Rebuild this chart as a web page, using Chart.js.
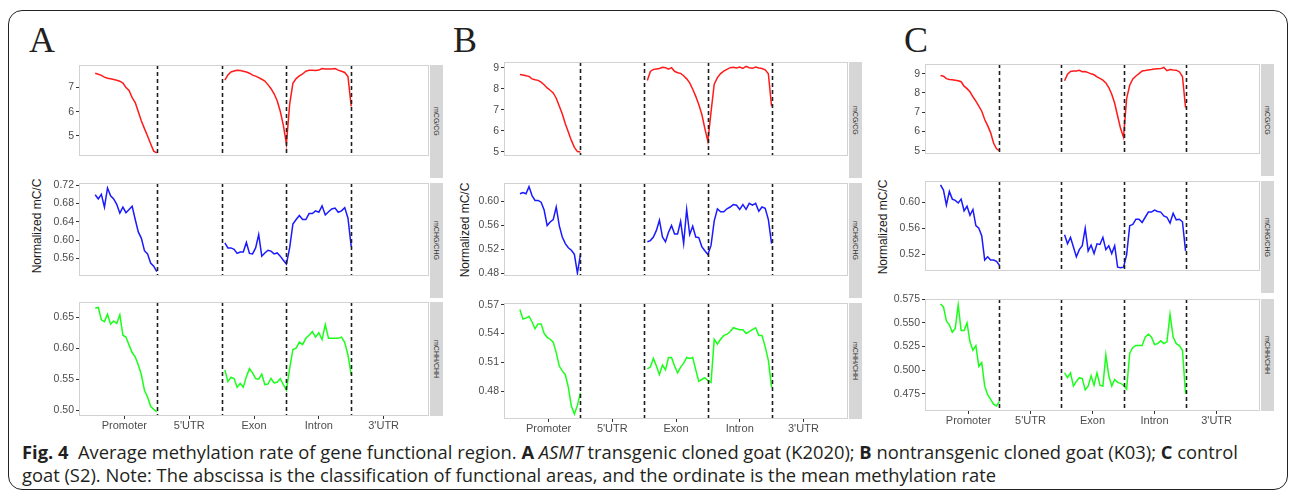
<!doctype html>
<html lang="en">
<head>
<meta charset="utf-8">
<title>Average methylation rate of gene functional region</title>
<style>
  * { margin: 0; padding: 0; }
  body {
    width: 1290px; height: 496px; background: #fff;
    position: relative; overflow: hidden;
    font-family: 'Liberation Sans', Arial, sans-serif;
  }
  .frame {
    position: absolute; left: 8px; top: 10px; width: 1280px; height: 480px;
    border: 1.5px solid #222; border-radius: 14px; box-sizing: border-box;
  }
  .letter {
    position: absolute; top: 22px; line-height: 1;
    font-family: 'Liberation Serif', 'DejaVu Serif', serif;
    font-size: 36px; color: #231f20;
  }
  .facet { position: absolute; }
  .strip {
    position: absolute; background: #d6d6d6;
    display: flex; align-items: center; justify-content: center;
  }
  .strip span {
    writing-mode: vertical-rl; font-size: 7px; color: #333; white-space: nowrap;
  }
  .ytitle {
    position: absolute; white-space: nowrap; font-size: 12px; color: #1a1a1a;
    transform: translate(-50%, -50%) rotate(-90deg);
  }
  .caption {
    position: absolute; left: 22px; top: 440px; color: #231f20;
    font-family: 'Open Sans', 'Noto Sans', sans-serif;
    font-size: 18.5px; line-height: 23px; white-space: nowrap; transform-origin: left top;
  }
  .caption b { font-weight: bold; }
</style>
</head>
<body>
<div class="frame"></div>
<div class="caption" id="caption">
  <div><span id="capLine"><b>Fig. 4</b>&nbsp; Average methylation rate of gene functional region. <b>A</b> <i>ASMT</i> transgenic cloned goat (K2020); <b>B</b> nontransgenic cloned goat (K03); <b>C</b> control</span></div>
  <div>goat (S2). Note: The abscissa is the classification of functional areas, and the ordinate is the mean methylation rate</div>
</div>

<script src="https://cdn.jsdelivr.net/npm/chart.js/dist/chart.umd.min.js"></script>
<script>
// regions along the gene body and methylation contexts
const regions = ['Promoter', "5'UTR", 'Exon', 'Intron', "3'UTR"];
const boundaries = [1, 2, 3, 4];
const contexts = ['mCG/CG', 'mCHG/CHG', 'mCHH/CHH'];
const lineColors = ['#ff1a1a', '#1a1aff', '#1aff1a'];

// A: ASMT transgenic cloned goat (K2020)
const aCgPromoter = [7.59,7.55,7.50,7.43,7.38,7.36,7.33,7.30,7.26,7.18,7.00,6.88,6.58,6.38,6.00,5.62,5.30,5.00,4.68,4.37,4.30];
const aCgExon     = [7.30,7.52,7.64,7.68,7.71,7.70,7.67,7.64,7.59,7.51,7.47,7.41,7.34,7.27,7.12,6.95,6.74,6.45,6.02,5.45,4.67];
const aCgIntron   = [6.30,7.17,7.37,7.48,7.56,7.67,7.71,7.71,7.70,7.72,7.78,7.76,7.76,7.76,7.78,7.72,7.67,7.62,7.45,6.22];
const aChgPromoter = [0.699,0.690,0.700,0.672,0.714,0.697,0.690,0.678,0.659,0.672,0.660,0.667,0.674,0.645,0.618,0.604,0.577,0.570,0.550,0.543,0.531];
const aChgExon     = [0.594,0.583,0.583,0.580,0.571,0.574,0.574,0.595,0.571,0.570,0.583,0.612,0.565,0.572,0.578,0.576,0.570,0.572,0.565,0.556,0.548];
const aChgIntron   = [0.583,0.635,0.645,0.654,0.645,0.645,0.658,0.658,0.664,0.661,0.675,0.655,0.662,0.668,0.670,0.661,0.664,0.671,0.648,0.586];
const aChhPromoter = [0.665,0.666,0.646,0.643,0.655,0.639,0.644,0.640,0.654,0.621,0.618,0.605,0.593,0.586,0.573,0.557,0.532,0.521,0.506,0.501,0.497];
const aChhExon     = [0.565,0.546,0.553,0.551,0.537,0.543,0.537,0.554,0.567,0.560,0.551,0.550,0.558,0.541,0.542,0.551,0.544,0.545,0.551,0.541,0.532];
const aChhIntron   = [0.567,0.598,0.600,0.610,0.606,0.616,0.621,0.627,0.618,0.625,0.614,0.638,0.616,0.616,0.616,0.616,0.618,0.609,0.589,0.557];

// B: nontransgenic cloned goat (K03)
const bCgPromoter = [8.68,8.65,8.62,8.59,8.47,8.43,8.40,8.31,8.19,8.04,7.93,7.80,7.55,7.18,6.80,6.34,5.95,5.55,5.22,5.02,5.00];
const bCgExon     = [8.39,8.82,8.92,8.94,8.96,9.02,9.00,8.93,9.00,8.83,8.76,8.73,8.62,8.47,8.28,7.98,7.64,7.25,6.79,6.12,5.51];
const bCgIntron   = [6.90,8.22,8.53,8.72,8.84,8.92,9.00,9.02,8.99,9.03,8.97,9.06,9.00,8.97,9.03,8.99,8.96,8.90,8.71,7.17];
const bChgPromoter = [0.613,0.615,0.613,0.625,0.610,0.602,0.602,0.599,0.586,0.560,0.566,0.570,0.591,0.560,0.541,0.530,0.523,0.519,0.512,0.481,0.512];
const bChgExon     = [0.533,0.535,0.541,0.552,0.569,0.541,0.533,0.549,0.560,0.546,0.546,0.567,0.530,0.587,0.545,0.559,0.541,0.540,0.525,0.518,0.512];
const bChgIntron   = [0.527,0.568,0.588,0.583,0.583,0.588,0.591,0.595,0.594,0.587,0.595,0.587,0.597,0.594,0.597,0.584,0.591,0.589,0.570,0.530];
const bChhPromoter = [0.565,0.555,0.556,0.558,0.552,0.545,0.550,0.550,0.540,0.536,0.534,0.531,0.520,0.506,0.501,0.497,0.484,0.464,0.456,0.465,0.478];
const bChhExon     = [0.503,0.505,0.514,0.506,0.497,0.507,0.502,0.515,0.515,0.506,0.499,0.505,0.509,0.515,0.514,0.515,0.502,0.490,0.492,0.494,0.491];
const bChhIntron   = [0.489,0.534,0.529,0.534,0.538,0.539,0.542,0.546,0.545,0.544,0.544,0.540,0.542,0.544,0.546,0.538,0.538,0.526,0.512,0.484];

// C: control goat (S2)
const cCgPromoter = [8.90,8.87,8.74,8.70,8.68,8.66,8.63,8.58,8.35,8.22,8.06,7.80,7.57,7.32,7.05,6.62,6.30,5.94,5.40,5.10,5.01];
const cCgExon     = [8.63,8.97,9.11,9.14,9.14,9.17,9.10,9.11,9.05,8.99,8.94,8.83,8.75,8.66,8.52,8.28,7.93,7.46,6.80,6.15,5.71];
const cCgIntron   = [7.70,8.40,8.72,8.88,9.00,9.14,9.16,9.19,9.21,9.24,9.25,9.26,9.32,9.15,9.21,9.19,9.18,9.10,8.85,7.24];
const cChgPromoter = [0.627,0.619,0.596,0.617,0.605,0.603,0.599,0.605,0.587,0.594,0.580,0.589,0.564,0.560,0.548,0.511,0.516,0.511,0.511,0.509,0.503];
const cChgExon     = [0.550,0.536,0.546,0.531,0.516,0.527,0.533,0.560,0.525,0.534,0.521,0.536,0.535,0.546,0.527,0.533,0.521,0.533,0.500,0.499,0.500];
const cChgIntron   = [0.519,0.564,0.566,0.574,0.574,0.569,0.577,0.585,0.585,0.588,0.586,0.585,0.579,0.577,0.568,0.583,0.573,0.574,0.570,0.525];
const cChhPromoter = [0.570,0.567,0.552,0.548,0.540,0.544,0.569,0.542,0.542,0.550,0.530,0.521,0.526,0.504,0.508,0.483,0.474,0.469,0.464,0.462,0.467];
const cChhExon     = [0.497,0.492,0.497,0.483,0.488,0.492,0.491,0.479,0.483,0.494,0.484,0.497,0.484,0.483,0.516,0.494,0.483,0.490,0.487,0.486,0.484];
const cChhIntron   = [0.480,0.518,0.524,0.526,0.526,0.526,0.535,0.538,0.535,0.527,0.528,0.531,0.528,0.530,0.559,0.535,0.528,0.526,0.521,0.475];

// y tick labels per facet
const cgTicksA = [5, 6, 7];
const chgTicksA = [0.56, 0.60, 0.64, 0.68, 0.72];
const chhTicksA = [0.50, 0.55, 0.60, 0.65];
const cgTicksB = [5, 6, 7, 8, 9];
const chgTicksB = [0.48, 0.52, 0.56, 0.60];
const chhTicksB = [0.48, 0.51, 0.54, 0.57];
const cgTicksC = [5, 6, 7, 8, 9];
const chgTicksC = [0.52, 0.56, 0.60];
const chhTicksC = [0.475, 0.500, 0.525, 0.550, 0.575];

// layout of the three panels (pixels) and axis ranges
const panels = [
  { letter: 'A', letterX: 29, titleX: 37, titleY: 226, left: 79, right: 429,
    tops: [65, 183, 302], bottoms: [178, 298, 416],
    series: [[aCgPromoter, aCgExon, aCgIntron], [aChgPromoter, aChgExon, aChgIntron], [aChhPromoter, aChhExon, aChhIntron]],
    ticks: [cgTicksA, chgTicksA, chhTicksA], dec: [0, 2, 2],
    ranges: [[4.17, 7.93], [0.5217, 0.7248], [0.4903, 0.6748]] },
  { letter: 'B', letterX: 453, titleX: 465, titleY: 230, left: 504, right: 848,
    tops: [62, 183, 303], bottoms: [178, 298, 419],
    series: [[bCgPromoter, bCgExon, bCgIntron], [bChgPromoter, bChgExon, bChgIntron], [bChhPromoter, bChhExon, bChhIntron]],
    ticks: [cgTicksB, chgTicksB, chhTicksB], dec: [0, 2, 2],
    ranges: [[4.81, 9.27], [0.476, 0.631], [0.4508, 0.5718]] },
  { letter: 'C', letterX: 904, titleX: 883, titleY: 227, left: 925, right: 1260,
    tops: [64, 181, 299], bottoms: [176, 293, 411],
    series: [[cCgPromoter, cCgExon, cCgIntron], [cChgPromoter, cChgExon, cChgIntron], [cChhPromoter, cChhExon, cChhIntron]],
    ticks: [cgTicksC, chgTicksC, chhTicksC], dec: [0, 2, 3],
    ranges: [[4.83, 9.5], [0.494, 0.633], [0.4567, 0.5753]] }
];

const AXIS_W = 45, PAD = 10, XAXIS_H = 22, STRIP_W = 14;

// promoter bins run up to the TSS boundary, exon/intron bins are contiguous
function toPoints(promoter, exon, intron) {
  const pts = promoter.map((v, i) => ({ x: 0.05 + i * 0.0475, y: v }));
  pts.push({ x: 1.5, y: null });
  exon.forEach((v, i) => pts.push({ x: 2.05 + i * 0.0475, y: v }));
  intron.forEach((v, j) => pts.push({ x: 3.05 + j * 0.05, y: v }));
  return pts;
}

// panel border + dashed region boundaries
const facetDecor = {
  id: 'facetDecor',
  afterDatasetsDraw(chart) {
    const { ctx, chartArea: a, scales: { x } } = chart;
    ctx.save();
    ctx.strokeStyle = '#1e1e1e';
    ctx.lineWidth = 1.6;
    ctx.setLineDash([4, 3]);
    boundaries.forEach(b => {
      const px = Math.round(x.getPixelForValue(b)) + 0.5;
      ctx.beginPath();
      ctx.moveTo(px, a.top);
      ctx.lineTo(px, a.bottom);
      ctx.stroke();
    });
    ctx.restore();
  },
  afterDraw(chart) {
    const { ctx, chartArea: a } = chart;
    ctx.save();
    ctx.strokeStyle = '#d2d2d2';
    ctx.lineWidth = 1;
    ctx.strokeRect(a.left + 0.5, a.top + 0.5, a.right - a.left - 1, a.bottom - a.top - 1);
    ctx.restore();
  }
};

Chart.defaults.font.family = "'Liberation Sans', Arial, sans-serif";

function addDiv(cls, style, html) {
  const d = document.createElement('div');
  d.className = cls;
  Object.assign(d.style, style);
  if (html) d.innerHTML = html;
  document.body.appendChild(d);
  return d;
}

panels.forEach(p => {
  addDiv('letter', { left: p.letterX + 'px' }, p.letter);
  addDiv('ytitle', { left: p.titleX + 'px', top: p.titleY + 'px' }, 'Normalized mC/C');

  p.series.forEach((s, k) => {
    const isBottom = k === 2;
    const fh = p.bottoms[k] - p.tops[k];
    const w = p.right - p.left + AXIS_W;
    const h = fh + PAD + (isBottom ? XAXIS_H : PAD);

    const canvas = document.createElement('canvas');
    canvas.className = 'facet';
    canvas.width = w;
    canvas.height = h;
    canvas.style.left = (p.left - AXIS_W) + 'px';
    canvas.style.top = (p.tops[k] - PAD) + 'px';
    document.body.appendChild(canvas);

    const strip = addDiv('strip', {
      left: (p.right + 1) + 'px', top: p.tops[k] + 'px',
      width: (STRIP_W - 1) + 'px', height: fh + 'px'
    });
    strip.innerHTML = '<span>' + contexts[k] + '</span>';

    new Chart(canvas, {
      type: 'line',
      data: {
        datasets: [{
          data: toPoints(s[0], s[1], s[2]),
          borderColor: lineColors[k],
          borderWidth: 1.5,
          pointRadius: 0,
          tension: 0,
          spanGaps: false
        }]
      },
      options: {
        responsive: false,
        animation: false,
        events: [],
        layout: { padding: { top: PAD, bottom: isBottom ? 0 : PAD, left: 0, right: 0 } },
        plugins: { legend: { display: false }, tooltip: { enabled: false } },
        scales: {
          x: {
            type: 'linear', min: -0.2, max: 5.2,
            display: isBottom,
            afterBuildTicks: sc => { sc.ticks = [0.5, 1.5, 2.5, 3.5, 4.5].map(v => ({ value: v })); },
            afterFit: sc => { sc.height = XAXIS_H; },
            ticks: {
              callback: v => regions[Math.floor(v)],
              color: '#4d4d4d', font: { size: 11 }, maxRotation: 0, autoSkip: false, padding: 0
            },
            grid: { drawOnChartArea: false, drawTicks: true, tickLength: 3, color: '#333' },
            border: { display: false }
          },
          y: {
            min: p.ranges[k][0], max: p.ranges[k][1],
            afterBuildTicks: sc => { sc.ticks = p.ticks[k].map(v => ({ value: v })); },
            afterFit: sc => { sc.width = AXIS_W; },
            ticks: {
              callback: v => v.toFixed(p.dec[k]),
              color: '#4d4d4d', font: { size: 10.5 }, padding: 2
            },
            grid: { drawOnChartArea: false, drawTicks: true, tickLength: 3, color: '#333' },
            border: { display: false }
          }
        }
      },
      plugins: [facetDecor]
    });
  });
});

// fit the caption's first line to the figure width
const cap = document.getElementById('caption');
const lineW = document.getElementById('capLine').getBoundingClientRect().width;
cap.style.transform = 'scaleX(' + (1216 / lineW) + ')';
</script>
</body>
</html>
